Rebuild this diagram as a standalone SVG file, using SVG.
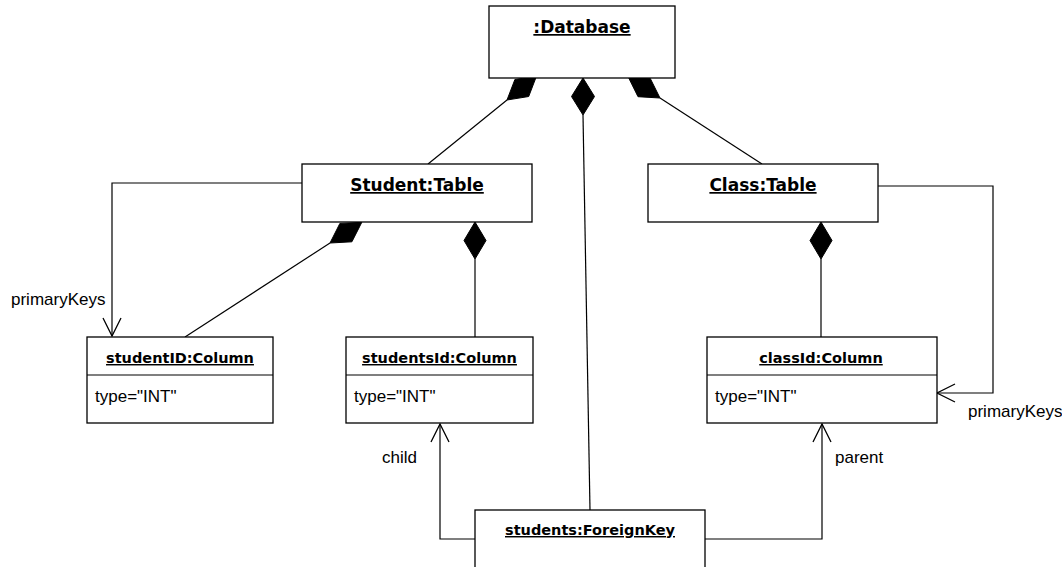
<svg xmlns="http://www.w3.org/2000/svg" width="1062" height="567" viewBox="0 0 1062 567">
  <style>
    .box { fill: #ffffff; stroke: #000000; stroke-width: 1.3; }
    .line { fill: none; stroke: #000000; stroke-width: 1.2; }
    .diamond { fill: #000000; stroke: #000000; stroke-width: 1; }
    .title { font-family: "DejaVu Sans", Verdana, sans-serif; font-weight: bold; text-decoration: underline; text-anchor: middle; fill: #000000; }
    .t16 { font-size: 17px; }
    .t14 { font-size: 14.5px; }
    .attr { font-family: "Liberation Sans", Arial, sans-serif; font-size: 17px; fill: #000000; }
  </style>
  <defs>
    <marker id="open-arrow" markerUnits="userSpaceOnUse" markerWidth="24" markerHeight="24" viewBox="-20 -12 24 24" refX="0" refY="0" orient="auto">
      <path d="M-18,-9 L0,0 L-18,9" fill="none" stroke="#000000" stroke-width="1.3"/>
    </marker>
  </defs>

  <!-- connectors: composition links with filled diamonds, references with open arrows -->
  <g id="connectors">
    <!-- :Database composes Student:Table -->
    <line class="line" x1="428" y1="164" x2="507" y2="100"/>
    <polygon class="diamond" points="507,100 528.7,96.5 536.5,76.1 514.9,79.5"/>
    <!-- :Database composes Class:Table -->
    <line class="line" x1="762" y1="164" x2="660" y2="98"/>
    <polygon class="diamond" points="660,98 650.2,78.3 628.3,77.1 638,96.7"/>
    <!-- :Database composes students:ForeignKey -->
    <line class="line" x1="583" y1="115" x2="590" y2="510"/>
    <polygon class="diamond" points="583,78 594.5,96.5 583,115 571.5,96.5"/>
    <!-- Student:Table composes studentID:Column -->
    <line class="line" x1="185" y1="337" x2="330" y2="243"/>
    <polygon class="diamond" points="330,243 351.9,241.8 361.8,222.3 339.9,223.4"/>
    <!-- Student:Table composes studentsId:Column -->
    <line class="line" x1="475" y1="259" x2="475" y2="337"/>
    <polygon class="diamond" points="475,222 486,240.5 475,259 464,240.5"/>
    <!-- Class:Table composes classId:Column -->
    <line class="line" x1="821" y1="259" x2="821" y2="337"/>
    <polygon class="diamond" points="821,222 832,240.5 821,259 810,240.5"/>
    <!-- primaryKeys references -->
    <polyline class="line" points="302,183 112,183 112,336" marker-end="url(#open-arrow)"/>
    <text class="attr" x="11" y="305">primaryKeys</text>
    <polyline class="line" points="878,186 993,186 993,393 937,393" marker-end="url(#open-arrow)"/>
    <text class="attr" x="968" y="417">primaryKeys</text>
    <!-- foreign key child / parent -->
    <polyline class="line" points="475,539 440,539 440,424" marker-end="url(#open-arrow)"/>
    <text class="attr" x="382" y="463">child</text>
    <polyline class="line" points="705,539 822,539 822,424" marker-end="url(#open-arrow)"/>
    <text class="attr" x="835" y="463">parent</text>
  </g>

  <g id="database">
    <rect class="box" x="489" y="6" width="186" height="72"/>
    <text class="title t16" x="582" y="33">:Database</text>
  </g>

  <g id="student-table">
    <rect class="box" x="302" y="164" width="230" height="58"/>
    <text class="title t16" x="417" y="191">Student:Table</text>
  </g>

  <g id="class-table">
    <rect class="box" x="648" y="164" width="230" height="58"/>
    <text class="title t16" x="763" y="191">Class:Table</text>
  </g>

  <g id="studentID-column">
    <rect class="box" x="87" y="337" width="186" height="86"/>
    <line class="line" x1="87" y1="375" x2="273" y2="375"/>
    <text class="title t14" x="180" y="363">studentID:Column</text>
    <text class="attr" x="95" y="402">type="INT"</text>
  </g>

  <g id="studentsId-column">
    <rect class="box" x="346" y="337" width="187" height="86"/>
    <line class="line" x1="346" y1="375" x2="533" y2="375"/>
    <text class="title t14" x="439.5" y="363">studentsId:Column</text>
    <text class="attr" x="354" y="402">type="INT"</text>
  </g>

  <g id="classId-column">
    <rect class="box" x="707" y="337" width="230" height="86"/>
    <line class="line" x1="707" y1="375" x2="937" y2="375"/>
    <text class="title t14" x="821" y="363">classId:Column</text>
    <text class="attr" x="715" y="402">type="INT"</text>
  </g>

  <g id="students-foreignkey">
    <rect class="box" x="475" y="510" width="230" height="80"/>
    <text class="title t14" x="590" y="535">students:ForeignKey</text>
  </g>
</svg>
